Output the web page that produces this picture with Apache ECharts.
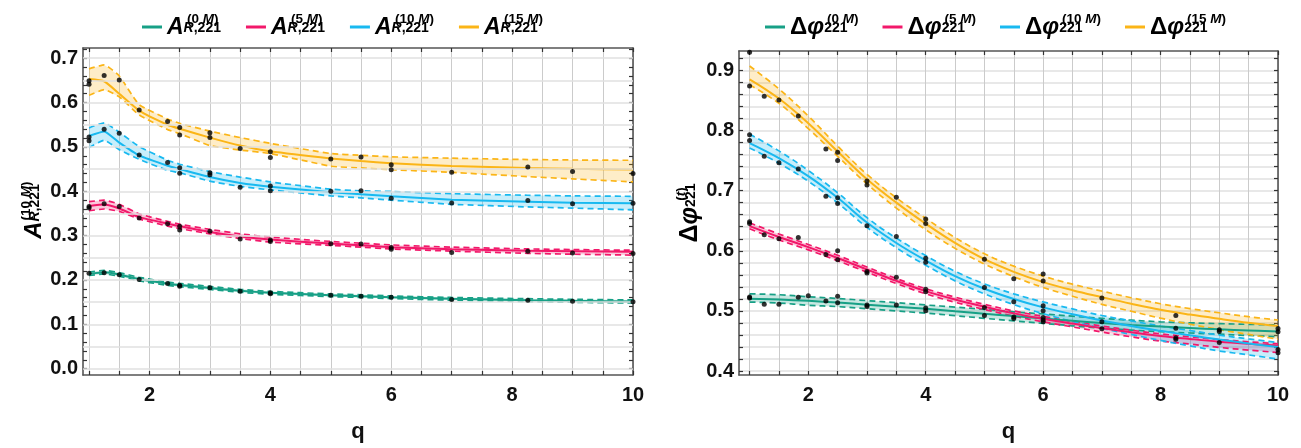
<!DOCTYPE html>
<html><head><meta charset="utf-8">
<script src="https://cdn.jsdelivr.net/npm/echarts@6/dist/echarts.min.js"></script>
<style>html,body{margin:0;padding:0;background:#fff}#c{width:1301px;height:448px}</style>
</head><body><div id="c"></div>
<script>
// ---------- data: left panel (amplitude ratio) ----------
const qA = [1,1.25,1.5,1.83,2.3,2.5,3,3.5,4,5,5.5,6,7,8.26,9,10];
const a0Mid = [0.214,0.2175,0.2125,0.202,0.1915,0.1885,0.182,0.1755,0.171,0.1655,0.1635,0.161,0.1575,0.1545,0.153,0.1515];
const a0Lo  = [0.210,0.2135,0.2085,0.198,0.1878,0.1848,0.1785,0.1722,0.1678,0.1625,0.1605,0.158,0.1545,0.1513,0.1497,0.148];
const a0Hi  = [0.218,0.2215,0.2165,0.206,0.1952,0.1922,0.1855,0.1788,0.1742,0.1685,0.1665,0.164,0.1605,0.1577,0.1563,0.155];
const a5Mid = [0.367,0.370,0.361,0.3417,0.327,0.3213,0.308,0.298,0.291,0.282,0.278,0.274,0.2695,0.266,0.265,0.2635];
const a5Hi  = [0.3765,0.380,0.3706,0.349,0.332,0.3257,0.314,0.304,0.2968,0.2867,0.283,0.279,0.274,0.270,0.2685,0.267];
const a5Lo  = [0.356,0.360,0.3547,0.3374,0.3215,0.3157,0.304,0.2935,0.2853,0.278,0.274,0.270,0.265,0.260,0.258,0.256];
const a10Mid = [0.5248,0.535,0.5096,0.4807,0.4574,0.450,0.432,0.4184,0.410,0.398,0.393,0.3886,0.3808,0.3765,0.3743,0.3728];
const a10Hi  = [0.5428,0.5544,0.533,0.5009,0.470,0.461,0.4444,0.432,0.421,0.4047,0.401,0.3995,0.3945,0.391,0.3895,0.3886];
const a10Lo  = [0.4987,0.515,0.4937,0.472,0.447,0.4416,0.4227,0.411,0.403,0.3895,0.385,0.380,0.3706,0.3647,0.362,0.358];
const a15Mid = [0.653,0.648,0.620,0.582,0.550,0.541,0.521,0.503,0.490,0.474,0.468,0.463,0.457,0.4525,0.4505,0.449];
const a15Hi  = [0.676,0.685,0.660,0.595,0.563,0.553,0.5356,0.521,0.508,0.485,0.481,0.4777,0.4745,0.4715,0.4705,0.4698];
const a15Lo  = [0.6166,0.629,0.613,0.572,0.539,0.530,0.503,0.493,0.485,0.4565,0.4525,0.4488,0.4425,0.433,0.428,0.4212];

const a0Pts = [[1,0.215],[1.25,0.2165],[1.5,0.212],[1.83,0.2013],[2.3,0.192],[2.5,0.1883],[2.5,0.186],[3,0.1824],[3.5,0.1745],[4,0.171],[4,0.169],[5,0.1655],[5.5,0.1635],[6,0.161],[7,0.156],[8.26,0.1545],[9,0.152],[10,0.151]];
const a5Pts = [[1,0.3656],[1,0.362],[1.25,0.372],[1.5,0.3656],[1.83,0.3395],[2.3,0.3265],[2.5,0.3213],[2.5,0.3126],[3,0.3098],[3.5,0.2924],[4,0.2903],[4,0.2866],[5,0.2816],[5.5,0.281],[6,0.2729],[6,0.269],[7,0.262],[8.26,0.2645],[9,0.2605],[10,0.2595]];
const a10Pts = [[1,0.5226],[1,0.5139],[1.25,0.540],[1.5,0.5306],[1.83,0.482],[2.3,0.4646],[2.5,0.453],[2.5,0.4408],[3,0.4415],[3,0.437],[3.5,0.409],[4,0.4118],[4,0.401],[5,0.400],[5.5,0.401],[6,0.3843],[7,0.3735],[8.26,0.379],[9,0.372],[10,0.3728]];
const a15Pts = [[1,0.649],[1,0.641],[1.25,0.661],[1.5,0.651],[1.83,0.583],[2.3,0.557],[2.5,0.544],[2.5,0.527],[3,0.532],[3,0.521],[3.5,0.4965],[4,0.489],[4,0.476],[5,0.473],[5.5,0.477],[6,0.4596],[6,0.4487],[7,0.443],[8.26,0.4546],[9,0.4444],[10,0.440]];

// ---------- data: right panel (phase difference) ----------
const qP = [1,1.5,2,2.5,3,3.5,4,4.5,5,5.5,6,6.5,7,7.5,8,8.5,9,9.5,10];
const p0Mid = [0.5205,0.519,0.5168,0.514,0.5105,0.507,0.5035,0.4995,0.4955,0.4915,0.4875,0.4837,0.480,0.4768,0.474,0.4716,0.4695,0.4677,0.466];
const p0Hi  = [0.5285,0.527,0.5236,0.5208,0.5172,0.5138,0.510,0.5065,0.5027,0.4985,0.4952,0.4914,0.4878,0.4847,0.482,0.4803,0.479,0.4778,0.4767];
const p0Lo  = [0.5148,0.5132,0.5095,0.5072,0.5037,0.500,0.4965,0.4922,0.4878,0.4835,0.4794,0.4753,0.4714,0.4683,0.4656,0.4634,0.4614,0.4592,0.4571];
const p5Mid = [0.641,0.623,0.606,0.588,0.569,0.550,0.533,0.519,0.507,0.496,0.487,0.479,0.4715,0.4645,0.4585,0.4535,0.449,0.4455,0.4425];
const p5Hi  = [0.6465,0.628,0.6105,0.5925,0.573,0.554,0.537,0.523,0.511,0.500,0.491,0.4825,0.475,0.468,0.462,0.457,0.4525,0.4488,0.4455];
const p5Lo  = [0.6365,0.618,0.6015,0.5835,0.5645,0.5455,0.5285,0.5145,0.5025,0.4915,0.482,0.4735,0.465,0.457,0.450,0.445,0.4395,0.435,0.431];
const p10Mid = [0.779,0.754,0.724,0.688,0.647,0.613,0.584,0.558,0.537,0.520,0.506,0.4945,0.484,0.475,0.467,0.4595,0.4525,0.446,0.440];
const p10Hi  = [0.794,0.766,0.7335,0.6965,0.655,0.621,0.592,0.566,0.545,0.5285,0.515,0.5035,0.4925,0.4835,0.475,0.4675,0.460,0.4535,0.4475];
const p10Lo  = [0.771,0.7455,0.7155,0.6795,0.639,0.605,0.576,0.550,0.5285,0.5105,0.4955,0.4825,0.471,0.461,0.451,0.442,0.4335,0.427,0.420];
const p15Mid = [0.885,0.853,0.812,0.765,0.719,0.680,0.645,0.613,0.586,0.565,0.548,0.5345,0.523,0.512,0.502,0.494,0.487,0.4805,0.475];
const p15Hi  = [0.907,0.869,0.824,0.774,0.727,0.688,0.654,0.622,0.595,0.5745,0.558,0.5445,0.533,0.522,0.512,0.504,0.497,0.4905,0.485];
const p15Lo  = [0.876,0.845,0.803,0.757,0.711,0.671,0.635,0.604,0.578,0.557,0.539,0.5245,0.511,0.4995,0.488,0.478,0.469,0.461,0.453];

const p0Pts = [[1,0.5233],[1,0.5217],[1.25,0.5111],[1.5,0.5111],[1.83,0.5228],[2,0.5254],[2.3,0.5164],[2.5,0.5243],[2.5,0.5138],[3,0.51],[3,0.5074],[3.5,0.51],[4,0.5048],[4,0.5005],[5,0.4926],[5.5,0.4873],[6,0.482],[8.26,0.4714],[10,0.4656]];
const p5Pts = [[1,0.6482],[1,0.6455],[1.25,0.6268],[1.5,0.62],[1.83,0.622],[2.3,0.594],[2.5,0.6],[2.5,0.5852],[3,0.5656],[3,0.563],[3.5,0.556],[4,0.536],[4,0.532],[5,0.5058],[5.5,0.49],[6,0.489],[6,0.485],[7,0.4704],[8.26,0.4529],[9,0.466],[10,0.4307]];
const p10Pts = [[1,0.793],[1,0.7834],[1.25,0.7573],[1.5,0.7462],[1.83,0.736],[2.3,0.6907],[2.5,0.6882],[2.5,0.6786],[3,0.6418],[3.5,0.6236],[4,0.5878],[4,0.581],[5,0.5392],[5.5,0.5153],[6,0.5085],[6,0.5005],[7,0.482],[8.26,0.4556],[9,0.4476],[10,0.436]];
const p15Pts = [[1,0.930],[1,0.874],[1.25,0.857],[1.5,0.8505],[1.83,0.824],[2.3,0.769],[2.5,0.7637],[2.5,0.750],[3,0.716],[3,0.7094],[3.5,0.689],[4,0.653],[4,0.6455],[5,0.586],[5.5,0.5534],[6,0.5614],[6,0.5497],[7,0.5217],[8.26,0.4926],[9,0.4688],[10,0.471]];

// ---------- ticks / labels ----------
const xLabels = [2,4,6,8,10];
const xTicks = [1,1.5,2,2.5,3,3.5,4,4.5,5,5.5,6,6.5,7,7.5,8,8.5,9,9.5,10];
const yLabelsL = [0,0.1,0.2,0.3,0.4,0.5,0.6,0.7];
const yTicksL = [0,0.02,0.04,0.06,0.08,0.1,0.12,0.14,0.16,0.18,0.2,0.22,0.24,0.26,0.28,0.3,0.32,0.34,0.36,0.38,0.4,0.42,0.44,0.46,0.48,0.5,0.52,0.54,0.56,0.58,0.6,0.62,0.64,0.66,0.68,0.7,0.72];
const yGridL = [0,0.05,0.1,0.15,0.2,0.25,0.3,0.35,0.4,0.45,0.5,0.55,0.6,0.65,0.7];
const yLabelsR = [0.4,0.5,0.6,0.7,0.8,0.9];
const yTicksR = [0.4,0.42,0.44,0.46,0.48,0.5,0.52,0.54,0.56,0.58,0.6,0.62,0.64,0.66,0.68,0.7,0.72,0.74,0.76,0.78,0.8,0.82,0.84,0.86,0.88,0.9,0.92];

const legendA = {A0:'(0 ', A5:'(5 ', A10:'(10 ', A15:'(15 '};
const legendP = {P0:'(0 ', P5:'(5 ', P10:'(10 ', P15:'(15 '};

// ---------- styling ----------
const FONT = '"Liberation Sans", Arial, Helvetica, sans-serif';
const COL = {c0:'#17a086', c5:'#f2186a', c10:'#18b9f0', c15:'#fbb517'};
function richSet(big, sub, sup, gA, gP){
  const base = {fontFamily: FONT, color: '#000', fontWeight: 'bold'};
  return {
    g:  {width: gA, lineHeight: 1, fontSize: 10},
    g2: {width: gP, lineHeight: 1, fontSize: 10},
    sp: Object.assign({fontSize: sup, lineHeight: 1}, base),
    spi:Object.assign({fontSize: sup, fontStyle: 'italic', lineHeight: 1}, base),
    A:  Object.assign({fontSize: big, fontStyle: 'italic', lineHeight: 16}, base),
    D:  Object.assign({fontSize: big + 1, lineHeight: 16}, base),
    Di: Object.assign({fontSize: big + 1, fontStyle: 'italic', lineHeight: 16}, base),
    si: Object.assign({fontSize: sub, fontStyle: 'italic', lineHeight: 6, verticalAlign: 'bottom'}, base),
    s:  Object.assign({fontSize: sub, lineHeight: 6, verticalAlign: 'bottom'}, base)
  };
}
const RICH_LEG = richSet(23, 14, 13.5, 20, 37);
const RICH_TIT = richSet(24, 14, 13.5, 21, 38);
function ampText(sup){ return '{g| }{sp|' + sup + '}{spi|M}{sp|)}\n{A|A}{si|R}{s|,221}'; }
function phiText(sup){ return '{g2| }{sp|' + sup + '}{spi|M}{sp|)}\n{D|Δ}{Di|φ}{s|221}'; }

const AXLINE = {show: true, onZero: false, lineStyle: {color: '#555', width: 1.6}};
const LABEL = {fontSize: 20, fontWeight: 'bold', color: '#111', fontFamily: FONT};

function xAxes(grid, min){
  return [
    {gridIndex: grid, type: 'value', min: min, max: 10, position: 'bottom',
     axisLine: AXLINE,
     axisTick: {show: true, inside: true, length: 4, customValues: xTicks, lineStyle: {color: '#333', width: 1.2}},
     axisLabel: Object.assign({customValues: xLabels, margin: 10, formatter: v => String(v)}, LABEL),
     splitLine: {show: true, lineStyle: {color: '#cbcbcb', width: 1}},
     name: 'q', nameLocation: 'middle', nameGap: 46,
     nameTextStyle: {fontSize: 22, fontWeight: 'bold', color: '#111', fontFamily: FONT}},
    {gridIndex: grid, type: 'value', min: min, max: 10, position: 'top',
     axisLine: AXLINE,
     axisTick: {show: true, inside: true, length: 4, customValues: xTicks, lineStyle: {color: '#333', width: 1.2}},
     axisLabel: {show: false}, splitLine: {show: false}}
  ];
}
function yAxes(grid, min, max, labels, ticks, showSplit, name, gap){
  return [
    {gridIndex: grid, type: 'value', min: min, max: max, position: 'left',
     axisLine: AXLINE,
     axisTick: {show: true, inside: true, length: 4, customValues: ticks, lineStyle: {color: '#333', width: 1.2}},
     axisLabel: Object.assign({customValues: labels, margin: 5, formatter: v => v.toFixed(1)}, LABEL),
     splitLine: {show: showSplit, lineStyle: {color: '#e0e0e0', width: 1.6}},
     name: name, nameLocation: 'middle', nameRotate: 90, nameGap: gap,
     nameTextStyle: {rich: RICH_TIT}},
    {gridIndex: grid, type: 'value', min: min, max: max, position: 'right',
     axisLine: AXLINE,
     axisTick: {show: true, inside: true, length: 4, customValues: ticks, lineStyle: {color: '#333', width: 1.2}},
     axisLabel: {show: false}, splitLine: {show: false}}
  ];
}

function band(q, lo, hi, color, xi, yi){
  return {type: 'custom', xAxisIndex: xi, yAxisIndex: yi, silent: true, z: 1,
    data: [[q[0], lo[0]]], clip: true,
    renderItem: function(params, api){
      const pts = [];
      for (let i = 0; i < q.length; i++) pts.push(api.coord([q[i], hi[i]]));
      for (let i = q.length - 1; i >= 0; i--) pts.push(api.coord([q[i], lo[i]]));
      return {type: 'polygon', shape: {points: pts}, style: {fill: color, opacity: 0.24}};
    }};
}
function pairs(q, v){ return q.map((x, i) => [x, v[i]]); }
function line(name, q, v, color, xi, yi, dashed, smooth){
  return {type: 'line', name: name, xAxisIndex: xi, yAxisIndex: yi, data: pairs(q, v),
    showSymbol: false, symbol: 'none', smooth: smooth, color: color, z: dashed ? 2 : 3, silent: true,
    lineStyle: {color: color, width: dashed ? 1.7 : 2, type: dashed ? [6, 4] : 'solid'}};
}
function dots(pts, xi, yi){
  return {type: 'scatter', xAxisIndex: xi, yAxisIndex: yi, data: pts, symbol: 'circle', symbolSize: 5,
    itemStyle: {color: '#000'}, z: 5, silent: true};
}

const series = [];
function group(prefix, q, mid, lo, hi, pts, color, xi, yi, sm){
  series.push(band(q, lo, hi, color, xi, yi));
  series.push(line(prefix + '_lo', q, lo, color, xi, yi, true, sm));
  series.push(line(prefix + '_hi', q, hi, color, xi, yi, true, sm));
  series.push(line(prefix, q, mid, color, xi, yi, false, sm));
  series.push(dots(pts, xi, yi));
}
group('A0', qA, a0Mid, a0Lo, a0Hi, a0Pts, COL.c0, 0, 0, 0.15);
group('A5', qA, a5Mid, a5Lo, a5Hi, a5Pts, COL.c5, 0, 0, 0.15);
group('A10', qA, a10Mid, a10Lo, a10Hi, a10Pts, COL.c10, 0, 0, 0.15);
group('A15', qA, a15Mid, a15Lo, a15Hi, a15Pts, COL.c15, 0, 0, 0.15);
group('P0', qP, p0Mid, p0Lo, p0Hi, p0Pts, COL.c0, 2, 2, 0.4);
group('P5', qP, p5Mid, p5Lo, p5Hi, p5Pts, COL.c5, 2, 2, 0.4);
group('P10', qP, p10Mid, p10Lo, p10Hi, p10Pts, COL.c10, 2, 2, 0.4);
group('P15', qP, p15Mid, p15Lo, p15Hi, p15Pts, COL.c15, 2, 2, 0.4);

// horizontal grid lines of the left panel (at 0.05 steps)
series.push({type: 'line', xAxisIndex: 0, yAxisIndex: 0, data: [], silent: true, z: 0,
  markLine: {silent: true, symbol: 'none', label: {show: false}, animation: false,
    lineStyle: {color: '#e0e0e0', width: 1.6, type: 'solid'},
    data: yGridL.map(v => ({yAxis: v}))}});

const option = {
  animation: false,
  textStyle: {fontFamily: FONT},
  grid: [
    {left: 83, top: 48, width: 550, height: 339},
    {left: 739, top: 51, width: 539, height: 337}
  ],
  legend: [
    {data: ['A0','A5','A10','A15'], left: 142, top: 12, padding: 0, icon: 'rect', itemWidth: 20, itemHeight: 3, itemGap: 25,
     formatter: n => ampText(legendA[n]), textStyle: {rich: RICH_LEG}},
    {data: ['P0','P5','P10','P15'], left: 765, top: 12, padding: 0, icon: 'rect', itemWidth: 20, itemHeight: 3, itemGap: 24,
     formatter: n => phiText(legendP[n]), textStyle: {rich: RICH_LEG}}
  ],
  xAxis: [].concat(xAxes(0, 0.9), xAxes(1, 0.82)),
  yAxis: [].concat(
    yAxes(0, -0.0143, 0.723, yLabelsL, yTicksL, false, ampText('(10 '), 34),
    yAxes(1, 0.3936, 0.932, yLabelsR, yTicksR, true, '{g2| }{sp|(}{spi|t}{sp|)}\n{D|Δ}{Di|φ}{s|221}', 40)
  ),
  series: series
};
const chart = echarts.init(document.getElementById('c'), null, {renderer: 'canvas'});
chart.setOption(option);
</script>
</body></html>
